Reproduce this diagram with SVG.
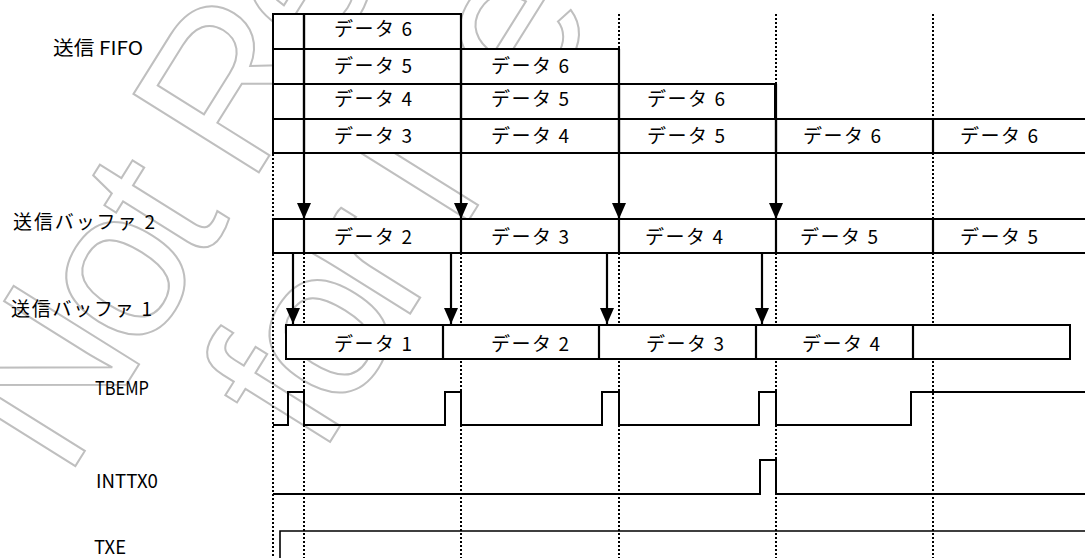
<svg xmlns="http://www.w3.org/2000/svg" width="1085" height="558" viewBox="0 0 1085 558">
<style>
.box{fill:#fff;stroke:#000;stroke-width:2}
.div{stroke:#000;stroke-width:2.2;fill:none}
.dot{stroke:#000;stroke-width:2;stroke-dasharray:2 2;fill:none}
.wave{stroke:#000;stroke-width:2;fill:none}
.arr{stroke:#000;stroke-width:2.2;fill:none;marker-end:url(#ah)}
.lbl{font-family:"Noto Sans CJK JP","Noto Sans CJK SC",sans-serif;font-size:19px;fill:#000}
.dt{font-family:"Noto Sans CJK JP","Noto Sans CJK SC",sans-serif;font-size:19px;fill:#000}
.wm{font-family:"Liberation Sans",Arial,sans-serif;font-size:215px;letter-spacing:-12px;fill:none;stroke:#bfbfbf;stroke-width:2}
</style>
<defs>
<marker id="ah" viewBox="0 0 16 14" refX="16" refY="7" markerWidth="16" markerHeight="14" markerUnits="userSpaceOnUse" orient="auto">
<path d="M0,0 L16,7 L0,14 z" fill="#000"/>
</marker>
</defs>
<rect width="1085" height="558" fill="#fff"/>

<g id="watermark">
<text class="wm" transform="translate(66,481) rotate(-58)">Not Recommended</text>
<text class="wm" transform="translate(320,458) rotate(-58)">for New Design</text>
</g>

<g id="grid">
<path class="dot" d="M273,14 V558 M304,253 V558 M461,253 V558 M619,14 V49 M619,253 V558 M776,14 V84 M776,253 V558 M933,14 V119 M933,153 V219 M933,253 V558"/>
</g>

<g id="labels">
<text class="lbl" x="53" y="55" textLength="90" lengthAdjust="spacingAndGlyphs">送信 FIFO</text>
<text class="lbl" x="13" y="229" textLength="142">送信バッファ 2</text>
<text class="lbl" x="11" y="316" textLength="141">送信バッファ 1</text>
<text class="lbl" x="95" y="395" textLength="54" lengthAdjust="spacingAndGlyphs">TBEMP</text>
<text class="lbl" x="96" y="488" textLength="62" lengthAdjust="spacingAndGlyphs">INTTX0</text>
<text class="lbl" x="94" y="554" textLength="32" lengthAdjust="spacingAndGlyphs">TXE</text>
</g>

<g id="fifo-row1">
<rect class="box" x="273" y="14" width="188" height="35"/>
<path class="div" d="M304,14 V49"/>
<text class="dt" x="334" y="36" textLength="78">データ 6</text>
</g>
<g id="fifo-row2">
<rect class="box" x="273" y="49" width="346" height="35"/>
<path class="div" d="M304,49 V84 M461,49 V84"/>
<text class="dt" x="334" y="73" textLength="78">データ 5</text>
<text class="dt" x="491" y="73" textLength="78">データ 6</text>
</g>
<g id="fifo-row3">
<rect class="box" x="273" y="84" width="502" height="35"/>
<path class="div" d="M304,84 V119 M461,84 V119 M619,84 V119"/>
<text class="dt" x="334" y="106" textLength="78">データ 4</text>
<text class="dt" x="491" y="106" textLength="78">データ 5</text>
<text class="dt" x="647" y="106" textLength="78">データ 6</text>
</g>
<g id="fifo-row4">
<rect class="box" x="273" y="119" width="820" height="34"/>
<path class="div" d="M304,119 V153 M461,119 V153 M619,119 V153 M776,119 V153 M933,119 V153"/>
<text class="dt" x="334" y="143" textLength="78">データ 3</text>
<text class="dt" x="491" y="143" textLength="78">データ 4</text>
<text class="dt" x="647" y="143" textLength="78">データ 5</text>
<text class="dt" x="803" y="143" textLength="78">データ 6</text>
<text class="dt" x="960" y="143" textLength="78">データ 6</text>
</g>

<g id="buffer2">
<rect class="box" x="273" y="219" width="820" height="34"/>
<path class="div" d="M304,219 V253 M461,219 V253 M619,219 V253 M776,219 V253 M933,219 V253"/>
<text class="dt" x="334" y="244" textLength="78">データ 2</text>
<text class="dt" x="491" y="244" textLength="78">データ 3</text>
<text class="dt" x="645" y="244" textLength="78">データ 4</text>
<text class="dt" x="800" y="244" textLength="78">データ 5</text>
<text class="dt" x="960" y="244" textLength="78">データ 5</text>
</g>

<g id="buffer1">
<rect class="box" x="286" y="325" width="784" height="34"/>
<path class="div" d="M443,325 V359 M599,325 V359 M756,325 V359 M913,325 V359"/>
<text class="dt" x="334" y="351" textLength="78">データ 1</text>
<text class="dt" x="491" y="351" textLength="78">データ 2</text>
<text class="dt" x="646" y="351" textLength="78">データ 3</text>
<text class="dt" x="802" y="351" textLength="78">データ 4</text>
</g>

<g id="tbemp">
<path class="wave" d="M273,425 H288 V392 H304 V425 H445 V392 H461 V425 H602 V392 H619 V425 H759 V392 H776 V425 H911 V392 H1085"/>
</g>
<g id="inttx0">
<path class="wave" d="M273,494 H760 V460 H776 V494 H1085"/>
</g>
<g id="txe">
<path class="wave" style="stroke-width:1.6" d="M280,558 V531 H1085"/>
</g>

<g id="connectors">
<path class="arr" d="M304,14 V219"/>
<path class="arr" d="M461,14 V219"/>
<path class="arr" d="M619,49 V219"/>
<path class="arr" d="M776,84 V219"/>
<path class="arr" d="M293,253 V324"/>
<path class="arr" d="M451,253 V324"/>
<path class="arr" d="M607,253 V324"/>
<path class="arr" d="M762,253 V324"/>
</g>
</svg>
